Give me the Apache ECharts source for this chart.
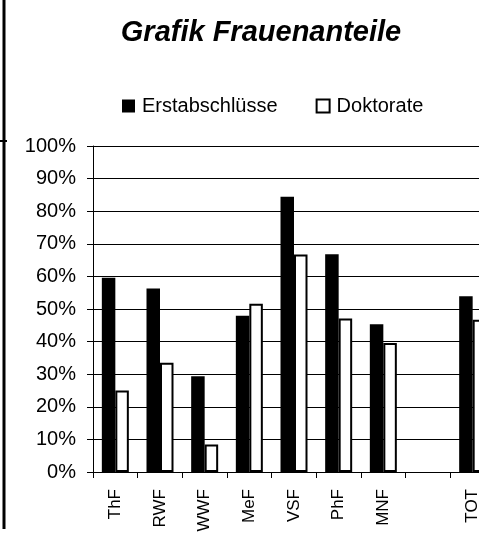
<!DOCTYPE html>
<html>
<head>
<meta charset="utf-8">
<script src="https://cdn.jsdelivr.net/npm/echarts@6/dist/echarts.min.js"></script>
<style>html,body{margin:0;padding:0;background:#fff;}#c{width:479px;height:539px;}</style>
</head>
<body>
<div id="c"></div>
<script>
var categories = ['ThF', 'RWF', 'WWF', 'MeF', 'VSF', 'PhF', 'MNF', '', 'TOT'];
var erstabschluesse = [59.6, 56.3, 29.4, 47.9, 84.4, 66.8, 45.3, null, 53.9];
var doktorate = [25.0, 33.5, 8.4, 51.6, 66.7, 47.1, 39.6, null, 46.7];
var yTicks = [0, 10, 20, 30, 40, 50, 60, 70, 80, 90, 100];

var FONT = 'Arial, "Liberation Sans", sans-serif';
var chart = echarts.init(document.getElementById('c'), null, {renderer: 'canvas'});
chart.setOption({
  animation: false,
  backgroundColor: '#fff',
  title: {
    text: 'Grafik Frauenanteile',
    left: 256, top: 13, textAlign: 'center',
    textStyle: {fontFamily: FONT, fontSize: 29, fontWeight: 'bold', fontStyle: 'italic', color: '#000'}
  },
  legend: {
    left: 117, top: 91,
    itemWidth: 13, itemHeight: 13, itemGap: 38,
    icon: 'rect',
    textStyle: {fontFamily: FONT, fontSize: 20, color: '#000', padding: [0, 0, 0, 2]},
    data: ['Erstabschlüsse', 'Doktorate']
  },
  grid: {left: 93, top: 146, width: 402, height: 326, containLabel: false, outerBoundsMode: 'none'},
  xAxis: {
    type: 'category',
    data: categories,
    axisLine: {lineStyle: {color: '#000', width: 1}},
    axisTick: {show: true, length: 6, lineStyle: {color: '#000'}},
    axisLabel: {rotate: 90, margin: 17, fontFamily: FONT, fontSize: 17, color: '#000', interval: 0}
  },
  yAxis: {
    type: 'value',
    min: yTicks[0], max: yTicks[yTicks.length - 1], interval: 10,
    axisLine: {show: true, lineStyle: {color: '#000', width: 1}},
    axisTick: {show: true, length: 6, lineStyle: {color: '#000'}},
    axisLabel: {formatter: '{value}%', margin: 17, fontFamily: FONT, fontSize: 20, color: '#000'},
    splitLine: {show: true, lineStyle: {color: '#000', width: 1}}
  },
  graphic: [
    {type: 'line', shape: {x1: 4, y1: 0, x2: 4, y2: 529}, style: {stroke: '#000', lineWidth: 3}},
    {type: 'line', shape: {x1: 0, y1: 141, x2: 7, y2: 141}, style: {stroke: '#000', lineWidth: 2}}
  ],
  series: [
    {
      name: 'Erstabschlüsse', type: 'bar', data: erstabschluesse,
      barWidth: 13.5, barGap: '0%',
      itemStyle: {color: '#000'}
    },
    {
      name: 'Doktorate', type: 'bar', data: doktorate,
      barWidth: 13.5, barGap: '0%',
      itemStyle: {color: '#fff', borderColor: '#000', borderWidth: 2}
    }
  ]
});
</script>
</body>
</html>
